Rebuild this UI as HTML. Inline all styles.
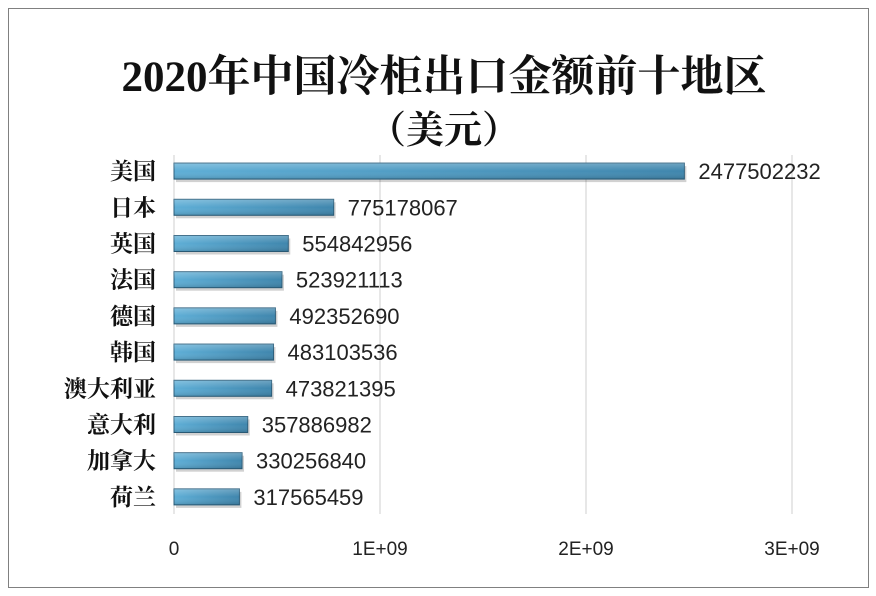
<!DOCTYPE html>
<html><head><meta charset="utf-8"><style>
body{margin:0;background:#fff;}
svg{display:block;font-family:"Liberation Sans","Noto Sans CJK SC",sans-serif;}
</style></head><body>
<svg id="chart" width="876" height="596" viewBox="0 0 876 596">
<defs>
<linearGradient id="bg" x1="0" x2="1" y1="0" y2="0">
<stop offset="0" stop-color="#5eaed6"/><stop offset="1" stop-color="#3f86ad"/>
</linearGradient>
<linearGradient id="bv" x1="0" x2="0" y1="0" y2="1">
<stop offset="0" stop-color="#ffffff" stop-opacity="0.25"/><stop offset="0.5" stop-color="#ffffff" stop-opacity="0"/><stop offset="1" stop-color="#000" stop-opacity="0.15"/>
</linearGradient>
</defs>
<rect x="8.5" y="8.5" width="860" height="579" fill="#fff" stroke="#808080" stroke-width="1"/>
<text x="444" y="91" text-anchor="middle" font-family="'Liberation Serif','Noto Serif CJK SC',serif" font-weight="bold" font-size="43" fill="#111">2020年中国冷柜出口金额前十地区</text>
<text x="444" y="143" text-anchor="middle" font-family="'Liberation Serif','Noto Serif CJK SC',serif" font-weight="bold" font-size="38" fill="#111">（美元）</text>
<g id="grid"></g><g id="bars"></g><g id="labels"></g>
</svg>
<script>
const categories=["美国","日本","英国","法国","德国","韩国","澳大利亚","意大利","加拿大","荷兰"];
const values=[2477502232,775178067,554842956,523921113,492352690,483103536,473821395,357886982,330256840,317565459];
const ticks=[0,1e9,2e9,3e9];
const tickLabels=["0","1E+09","2E+09","3E+09"];
const NS="http://www.w3.org/2000/svg";
const x0=174,pxPer=206/1e9,yTop=153,rowH=36.2,barH=16;
const xs=v=>x0+v*pxPer;
const yc=i=>yTop+rowH*(i+0.5);
function mk(t,a,p){const e=document.createElementNS(NS,t);for(const k in a)e.setAttribute(k,a[k]);p.appendChild(e);return e;}
const g=document.getElementById('grid'),b=document.getElementById('bars'),l=document.getElementById('labels');
ticks.forEach((t,i)=>{
 const ln=mk('line',{x1:xs(t),x2:xs(t),y1:155,y2:514,stroke:'#cfcfcf','stroke-width':1},g);
 
 
 const tx=mk('text',{x:xs(t),y:555,'text-anchor':'middle','font-size':19,fill:'#222'},l);
 tx.textContent=tickLabels[i];
 
 
});
categories.forEach((c,i)=>{
 const y=yc(i)-barH/2,w=xs(values[i])-x0;
 const sh=mk('rect',{x:x0+2,y:y+3,width:w,height:barH,fill:'#000',opacity:0.18},b);
 
 
 const r=mk('rect',{x:x0,y:y,width:w,height:barH,fill:'url(#bg)',stroke:'#2c5f7c','stroke-width':1},b);
 
 
 const hl=mk('rect',{x:x0,y:y,width:w,height:barH,fill:'url(#bv)'},b);
 
 
 const cl=mk('text',{x:156,y:yc(i)+8,'text-anchor':'end','font-size':23,'font-weight':'bold',fill:'#111','font-family':"'Liberation Serif','Noto Serif CJK SC',serif"},l);
 cl.textContent=c;
 
 
 const vl=mk('text',{x:xs(values[i])+14,y:yc(i)+8,'font-size':22,fill:'#222'},l);
 vl.textContent=values[i];
 
 
});
</script>
</body></html>
